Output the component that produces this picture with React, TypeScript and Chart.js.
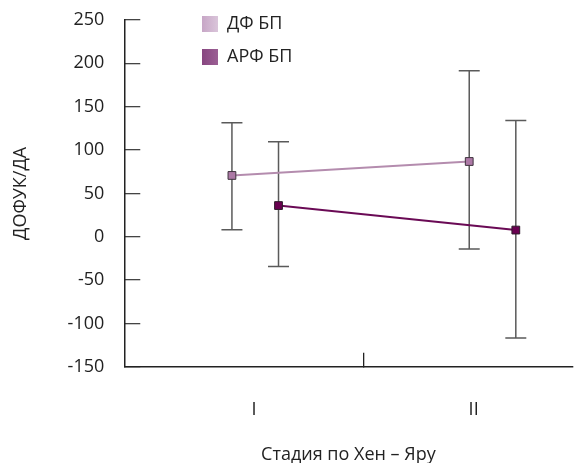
import React, { useEffect, useRef } from "react";
import { Chart, registerables } from "chart.js";

Chart.register(...registerables);

const categoryLabels = ["I", "II"];
const categoryPositions = [1, 2];
const yTicks = [-150, -100, -50, 0, 50, 100, 150, 200, 250];

const seriesNames = ["ДФ БП", "АРФ БП"];
const dfX = [0.9, 1.98];
const dfY = [70.7, 86.8];
const dfLow = [8, -14.2];
const dfHigh = [131.4, 191.4];

const arfX = [1.112, 2.192];
const arfY = [36, 7.7];
const arfLow = [-34.2, -116.8];
const arfHigh = [109.5, 134];

const FONT = "'Open Sans', 'Noto Sans', sans-serif";
const LEGEND_PAD = 15;

export default function App() {
  const ref = useRef<HTMLCanvasElement | null>(null);

  useEffect(() => {
    const canvas = ref.current;
    if (!canvas) return;
    const ctx = canvas.getContext("2d")!;

    const makeGrad = (c1: string, c2: string) => {
      const g = ctx.createLinearGradient(202, 0, 218, 0);
      g.addColorStop(0, c1);
      g.addColorStop(1, c2);
      return g;
    };

    const errorBars = {
      id: "errorBars",
      beforeDatasetsDraw(chart: any) {
        const c = chart.ctx;
        const xs = chart.scales.x;
        const ys = chart.scales.y;
        const sets = [
          { x: dfX, lo: dfLow, hi: dfHigh },
          { x: arfX, lo: arfLow, hi: arfHigh },
        ];
        c.save();
        c.strokeStyle = "#5a5a5a";
        c.lineWidth = 1.5;
        sets.forEach((s) => {
          s.x.forEach((xv, i) => {
            const px = xs.getPixelForValue(xv);
            const pl = ys.getPixelForValue(s.lo[i]);
            const ph = ys.getPixelForValue(s.hi[i]);
            c.beginPath();
            c.moveTo(px, pl);
            c.lineTo(px, ph);
            c.moveTo(px - 10.5, pl);
            c.lineTo(px + 10.5, pl);
            c.moveTo(px - 10.5, ph);
            c.lineTo(px + 10.5, ph);
            c.stroke();
          });
        });
        c.restore();
      },
    };

    const legendShift = {
      id: "legendShift",
      afterLayout(chart: any) {
        const lg = chart.legend;
        if (!lg) return;
        const dx = 202 - LEGEND_PAD - lg.left;
        const dy = 15 - LEGEND_PAD - lg.top;
        lg.left += dx;
        lg.right += dx;
        lg.top += dy;
        lg.bottom += dy;
      },
    };

    const noScalePad = (scale: any) => {
      scale.paddingTop = 0;
      scale.paddingBottom = 0;
      scale.paddingLeft = 0;
      scale.paddingRight = 0;
    };

    const chart = new Chart(ctx, {
      type: "line",
      data: {
        datasets: [
          {
            label: seriesNames[0],
            data: dfX.map((x, i) => ({ x, y: dfY[i] })),
            borderColor: "#b48cae",
            backgroundColor: makeGrad("#c7a6c6", "#dac5da"),
            borderWidth: 2,
            pointStyle: "rect",
            pointRadius: 5.5,
            pointBackgroundColor: "#ad79a6",
            pointBorderColor: "#3f343e",
            pointBorderWidth: 1,
          },
          {
            label: seriesNames[1],
            data: arfX.map((x, i) => ({ x, y: arfY[i] })),
            borderColor: "#6a0a55",
            backgroundColor: makeGrad("#874680", "#9b5f94"),
            borderWidth: 2,
            pointStyle: "rect",
            pointRadius: 5.5,
            pointBackgroundColor: "#690050",
            pointBorderColor: "#2e1a2a",
            pointBorderWidth: 1,
          },
        ],
      },
      options: {
        animation: false,
        responsive: false,
        maintainAspectRatio: false,
        layout: { padding: { left: 10, right: 0, top: 20, bottom: 0 } },
        plugins: {
          tooltip: { enabled: false },
          legend: {
            position: "chartArea" as any,
            fullSize: false,
            align: "start",
            labels: {
              boxWidth: 16,
              boxHeight: 16,
              padding: LEGEND_PAD,
              color: "#222",
              font: { family: FONT, size: 18 },
              generateLabels(chart: any) {
                return chart.data.datasets.map((d: any, i: number) => ({
                  text: d.label,
                  fillStyle: d.backgroundColor,
                  strokeStyle: "rgba(0,0,0,0)",
                  lineWidth: 0,
                  hidden: false,
                  datasetIndex: i,
                  fontColor: "#222",
                }));
              },
            },
          },
        },
        scales: {
          x: {
            type: "linear",
            min: 0.41,
            max: 2.45,
            afterBuildTicks(scale: any) {
              scale.ticks = [
                { value: categoryPositions[0] },
                { value: (categoryPositions[0] + categoryPositions[1]) / 2 },
                { value: categoryPositions[1] },
              ];
            },
            afterFit: noScalePad,
            ticks: {
              autoSkip: false,
              maxRotation: 0,
              padding: 46,
              color: "#222",
              font: { family: FONT, size: 18 },
              callback(value: any) {
                const idx = categoryPositions.indexOf(Number(value));
                return idx >= 0 ? categoryLabels[idx] : "";
              },
            },
            grid: {
              drawOnChartArea: false,
              drawTicks: true,
              tickLength: -14,
              lineWidth: 1.3,
              color: (c: any) =>
                c.tick && categoryPositions.indexOf(c.tick.value) < 0 ? "#222" : "rgba(0,0,0,0)",
            },
            border: { display: true, color: "#222", width: 1.5 },
            title: {
              display: true,
              text: "Стадия по Хен – Яру",
              color: "#222",
              font: { family: FONT, size: 18 },
              padding: { top: -22, bottom: -3 },
            },
          },
          y: {
            type: "linear",
            min: -150,
            max: 250,
            afterBuildTicks(scale: any) {
              scale.ticks = yTicks.map((v) => ({ value: v }));
            },
            afterFit: noScalePad,
            ticks: {
              padding: 36,
              color: "#222",
              font: { family: FONT, size: 18 },
            },
            grid: {
              drawOnChartArea: false,
              drawTicks: true,
              tickLength: -16,
              lineWidth: 1.3,
              color: "#444",
            },
            border: { display: true, color: "#222", width: 1.5 },
            title: {
              display: true,
              text: "ДОФУК/ДА",
              color: "#222",
              font: { family: FONT, size: 18 },
              padding: { top: 0, bottom: 0 },
            },
          },
        },
      },
      plugins: [errorBars, legendShift],
    });

    return () => chart.destroy();
  }, []);

  return (
    <div style={{ position: "fixed", left: 0, top: 0, width: 579, height: 463, background: "#fff" }}>
      <canvas ref={ref} width={579} height={463} style={{ display: "block" }} />
    </div>
  );
}
